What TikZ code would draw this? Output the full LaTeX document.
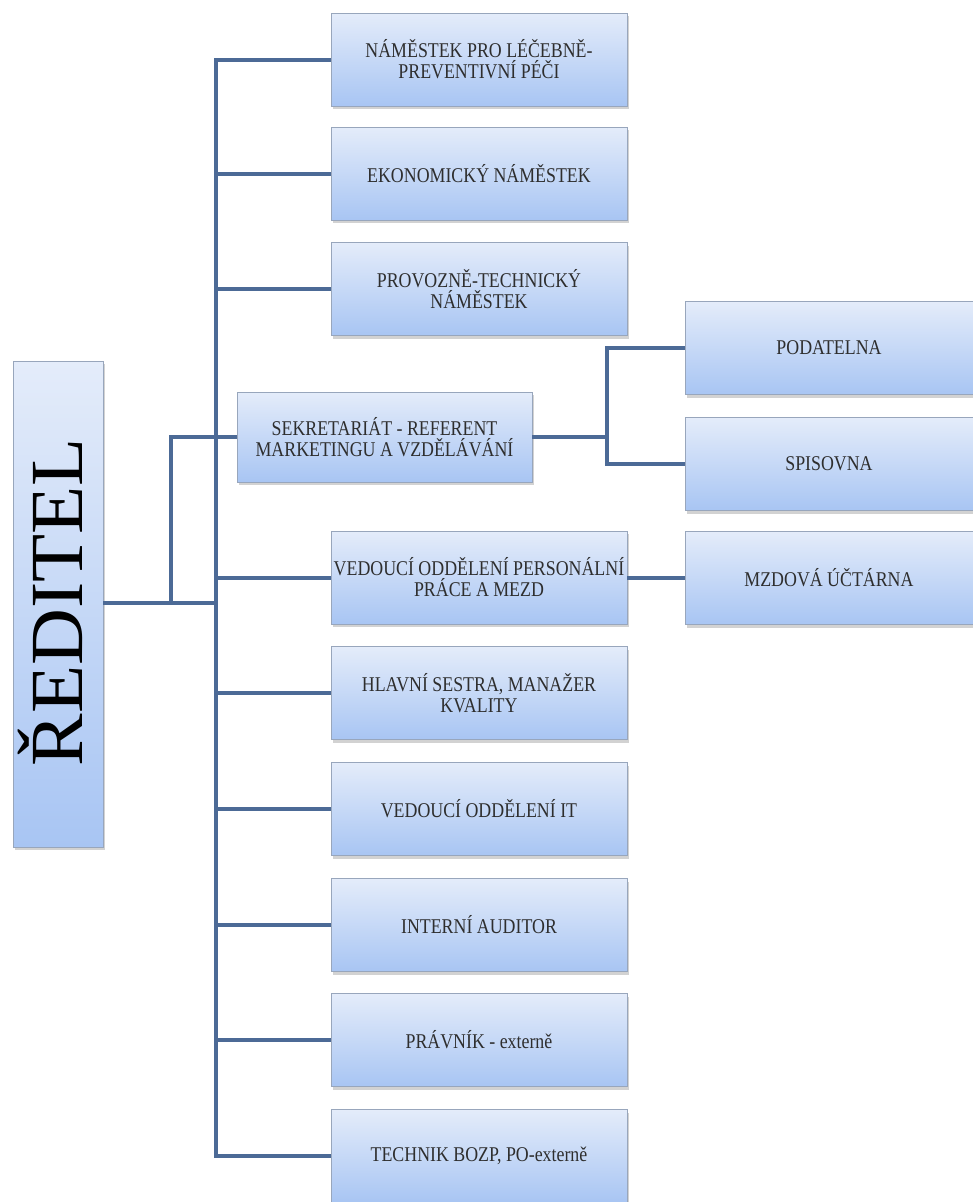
\documentclass[tikz,border=0pt]{standalone}
\usepackage{fontspec}
\setmainfont{Liberation Serif}[FakeStretch=0.85]
\newfontfamily\bigfont{Liberation Serif}[FakeStretch=1.05]
\usetikzlibrary{shadows}
\definecolor{conncol}{HTML}{4C6A96}
\definecolor{boxtop}{HTML}{E4ECFA}
\definecolor{boxbot}{HTML}{A8C5F3}
\definecolor{boxline}{HTML}{98A6BC}
\definecolor{txtcol}{HTML}{2E2E2E}
\tikzset{
  orgbox/.style={draw=boxline, line width=0.7pt, top color=boxtop, bottom color=boxbot,
    minimum width=296pt, minimum height=93pt, align=center, inner sep=0pt,
    drop shadow={shadow xshift=2pt, shadow yshift=-3pt, opacity=0.35},
    font=\fontsize{21}{21}\selectfont, text=txtcol},
  sidebox/.style={orgbox, minimum width=288pt},
  conn/.style={draw=conncol, line width=4pt, line join=miter}
}
\begin{document}
\begin{tikzpicture}[x=1pt,y=-1pt]
\clip (0,0) rectangle (973,1202);
\fill[white] (0,0) rectangle (973,1202);
% director
\node[orgbox, minimum width=90pt, minimum height=486pt] (red) at (58,604) {};
\node[rotate=90, anchor=base, inner sep=0pt, text=black, font=\bigfont\fontsize{75}{75}\selectfont] (redt) at (82,602) {ŘEDITEL};
% main column
\node[orgbox] (b1) at (479,59.5) {NÁMĚSTEK PRO LÉČEBNĚ-\\PREVENTIVNÍ PÉČI};
\node[orgbox] (b2) at (479,173.5) {EKONOMICKÝ NÁMĚSTEK};
\node[orgbox] (b3) at (479,289) {PROVOZNĚ-TECHNICKÝ\\NÁMĚSTEK};
\node[orgbox, minimum width=295pt, minimum height=90pt] (sek) at (384.5,437) {SEKRETARIÁT - REFERENT\\MARKETINGU A VZDĚLÁVÁNÍ};
\node[orgbox] (ved) at (479,577.5) {VEDOUCÍ ODDĚLENÍ PERSONÁLNÍ\\PRÁCE A MEZD};
\node[orgbox] (hla) at (479,693) {HLAVNÍ SESTRA, MANAŽER\\KVALITY};
\node[orgbox] (vit) at (479,809) {VEDOUCÍ ODDĚLENÍ IT};
\node[orgbox] (int) at (479,925) {INTERNÍ AUDITOR};
\node[orgbox] (pra) at (479,1040) {PRÁVNÍK - externě};
\node[orgbox] (tec) at (479,1156) {TECHNIK BOZP, PO-externě};
% right column
\node[sidebox] (pod) at (829,348) {PODATELNA};
\node[sidebox] (spi) at (829,464) {SPISOVNA};
\node[sidebox] (mzd) at (829,578) {MZDOVÁ ÚČTÁRNA};
% junctions
\coordinate (J) at (216,603);
\coordinate (K) at (171,603);
\coordinate (M) at (607,437);
% connectors
\draw[conn] (red.east |- J) -- (J);
\draw[conn] (b1.west) -- (b1.west -| J) -- (tec.west -| J) -- (tec.west);
\foreach \n in {b2,b3,ved,hla,vit,int,pra}{
  \draw[conn] (\n.west -| J) -- (\n.west);
}
\draw[conn] (K) -- (K |- sek.west) -- (sek.west);
\draw[conn] (sek.east) -- (M);
\draw[conn] (pod.west) -- (pod.west -| M) -- (spi.west -| M) -- (spi.west);
\draw[conn] (ved.east) -- (ved.east -| mzd.west);
\end{tikzpicture}
\end{document}
